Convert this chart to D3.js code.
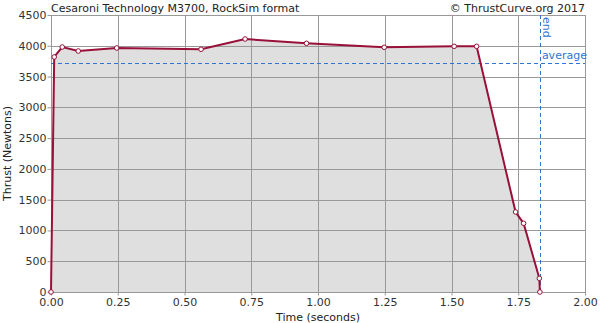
<!DOCTYPE html>
<html><head><meta charset="utf-8">
<script src="https://cdn.jsdelivr.net/npm/d3@7"></script>
<style>body{margin:0;background:#fff}svg{display:block}text{font-family:"DejaVu Sans",sans-serif}</style>
</head><body><svg id="c" width="600" height="323"></svg>
<script>
const times = [0, 0.012, 0.042, 0.102, 0.246, 0.562, 0.727, 0.957, 1.248, 1.51, 1.594, 1.740, 1.770, 1.829, 1.831];
const thrust = [0, 3818, 3980, 3915, 3964, 3943, 4110, 4040, 3975, 3991, 3991, 1300, 1116, 222, 0];
const xTicks = [0, 0.25, 0.5, 0.75, 1.0, 1.25, 1.5, 1.75, 2.0];
const yTicks = [0, 500, 1000, 1500, 2000, 2500, 3000, 3500, 4000, 4500];
const averageThrust = 3720;
const burnEnd = 1.831;
const title = "Cesaroni Technology M3700, RockSim format";
const credit = "© ThrustCurve.org 2017";

const svg = d3.select("#c");
const L = 51, R = 585, T = 15, B = 292;
const x = d3.scaleLinear().domain([0, 2]).range([L, R]);
const y = d3.scaleLinear().domain([0, 4500]).range([B, T]);
const data = times.map((t, i) => ({t, v: thrust[i]}));

svg.append("path").datum(data)
  .attr("d", d3.area().x(d => x(d.t)).y0(y(0)).y1(d => y(d.v)))
  .attr("fill", "#dfdfdf");

svg.append("g").selectAll("line").data(xTicks).join("line")
  .attr("x1", d => Math.round(x(d)) + 0.5).attr("x2", d => Math.round(x(d)) + 0.5)
  .attr("y1", T).attr("y2", B).attr("stroke", "#999");
svg.append("g").selectAll("line").data(yTicks).join("line")
  .attr("x1", L).attr("x2", R)
  .attr("y1", d => Math.round(y(d)) + 0.5).attr("y2", d => Math.round(y(d)) + 0.5).attr("stroke", "#999");

const xa = svg.append("g").attr("transform", `translate(0,${B + 0.5})`)
  .call(d3.axisBottom(x).tickValues(xTicks).tickFormat(d3.format(".2f")).tickSize(3).tickPadding(3));
const ya = svg.append("g").attr("transform", `translate(${L + 0.5},0)`)
  .call(d3.axisLeft(y).tickValues(yTicks).tickFormat(d3.format("d")).tickSize(4).tickPadding(1));
[xa, ya].forEach(a => {
  a.select(".domain").remove();
  a.selectAll("line").attr("stroke", "#999");
  a.selectAll("text").attr("fill", "#333").style("font-size", "11px").style("font-family", "DejaVu Sans");
});
svg.append("rect").attr("x", L + 0.5).attr("y", T + 0.5).attr("width", R - L).attr("height", B - T)
  .attr("fill", "none").attr("stroke", "#999");

svg.append("line").attr("x1", L).attr("x2", R).attr("y1", Math.round(y(averageThrust)) + 0.5).attr("y2", Math.round(y(averageThrust)) + 0.5)
  .attr("stroke", "#2f74d0").attr("stroke-dasharray", "4,3");
svg.append("line").attr("x1", Math.round(x(burnEnd)) + 0.5).attr("x2", Math.round(x(burnEnd)) + 0.5).attr("y1", T).attr("y2", B)
  .attr("stroke", "#2f74d0").attr("stroke-dasharray", "4,3");
svg.append("text").attr("x", x(burnEnd) + 2).attr("y", y(averageThrust) - 4).text("average")
  .attr("fill", "#2f74d0").style("font-size", "11px");
svg.append("text").attr("transform", `translate(${x(burnEnd) + 3},${T + 2}) rotate(90)`).text("end")
  .attr("fill", "#2f74d0").style("font-size", "11px");

svg.append("path").datum(data)
  .attr("d", d3.line().x(d => x(d.t)).y(d => y(d.v)))
  .attr("fill", "none").attr("stroke", "#99103a").attr("stroke-width", 2);
svg.append("g").selectAll("circle").data(data).join("circle")
  .attr("cx", d => x(d.t)).attr("cy", d => y(d.v)).attr("r", 2.3)
  .attr("fill", "#fff").attr("stroke", "#99103a").attr("stroke-width", 1);

svg.append("text").attr("x", L).attr("y", 12).text(title).attr("fill", "#222").style("font-size", "11px");
svg.append("text").attr("x", R).attr("y", 12).attr("text-anchor", "end").text(credit).attr("fill", "#222").style("font-size", "11px");
svg.append("text").attr("x", (L + R) / 2).attr("y", 321).attr("text-anchor", "middle").text("Time (seconds)")
  .attr("fill", "#222").style("font-size", "11px");
svg.append("text").attr("transform", `translate(11,${(T + B) / 2}) rotate(-90)`).attr("text-anchor", "middle")
  .text("Thrust (Newtons)").attr("fill", "#222").style("font-size", "11px");
</script></body></html>
